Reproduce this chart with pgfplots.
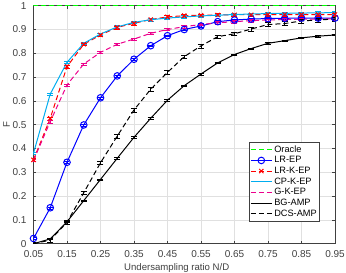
\documentclass[border=0pt]{standalone}
\usepackage{pgfplots}
\pgfplotsset{compat=1.18}
\usepackage{fontspec}
\setmainfont{Liberation Sans}
\definecolor{axgray}{gray}{0.25}
\definecolor{grd}{gray}{0.88}
\begin{document}
\begin{tikzpicture}
\useasboundingbox (-33.5pt,-29.3pt) rectangle (312.5pt,243.7pt);
\begin{axis}[
  at={(0,0)}, anchor=south west,
  scale only axis, width=301.5pt, height=238pt,
  xmin=0.05, xmax=0.95, ymin=0, ymax=1,
  xtick={0.05,0.15,...,0.95},
  xticklabels={0.05,0.15,0.25,0.35,0.45,0.55,0.65,0.75,0.85,0.95},
  ytick={0,0.1,...,1.0},
  yticklabels={0,0.1,0.2,0.3,0.4,0.5,0.6,0.7,0.8,0.9,1},
  grid=major, major grid style={draw=grd, line width=0.5pt},
  axis line style={draw=axgray, line width=0.5pt},
  tick align=inside, major tick length=3pt, tick style={draw=axgray, line width=0.5pt},
  /pgf/number format/assume math mode=true,
  ticklabel style={font=\fontsize{10}{12}\selectfont, text=axgray},
  xticklabel style={yshift=-3.5pt},
  yticklabel style={xshift=-3.5pt},
  xlabel={Undersampling ratio N/D},
  ylabel={F},
  every axis x label/.style={at={(axis description cs:0.475,-0.102)}, anchor=center, font=\fontsize{9.6}{11}\selectfont, text=axgray},
  every axis y label/.style={at={(axis description cs:-0.089,0.5)}, anchor=center, rotate=90, font=\fontsize{9.6}{11}\selectfont, text=axgray},
  legend style={at={(axis description cs:0.715,0.426)}, anchor=north west,
    font=\fontsize{9.2}{10}\selectfont, draw=axgray, line width=0.5pt, inner sep=1pt,
    row sep=-1.2pt, cells={anchor=west}},
  legend cell align=left,
  legend image code/.code={\draw[#1] (0pt,0pt) -- (21pt,0pt); \draw[#1, solid, mark repeat=1, mark phase=1] plot coordinates {(10.5pt,0pt)};},
  every axis plot/.append style={line width=1pt},
  error bars/error bar style={solid, line width=0.7pt},
]
\addplot[color=green, dashed, dash pattern=on 5pt off 3pt] coordinates {(0.05,1) (0.95,1)};
\addlegendentry{Oracle}
\addplot[color=blue, mark=o, mark size=3.3pt,
  error bars/.cd, y dir=both, y fixed=0.004, error mark options={rotate=90, mark size=2.5pt}] coordinates {
(0.05,0.022) (0.10,0.151) (0.15,0.342) (0.20,0.499) (0.25,0.613) (0.30,0.705) (0.35,0.775) (0.40,0.832) (0.45,0.874) (0.50,0.900) (0.55,0.915) (0.60,0.933) (0.65,0.940) (0.70,0.944) (0.75,0.946) (0.80,0.947) (0.85,0.948) (0.90,0.948) (0.95,0.948)};
\addlegendentry{LR-EP}
\addplot[color=red, dashed, dash pattern=on 5pt off 3pt, mark=x, mark size=3pt, mark options={solid},
  error bars/.cd, y dir=both, y fixed=0.006, error mark options={rotate=90, mark size=3pt}] coordinates {
(0.05,0.352) (0.10,0.527) (0.15,0.744) (0.20,0.838) (0.25,0.877) (0.30,0.909) (0.35,0.926) (0.40,0.942) (0.45,0.953) (0.50,0.958) (0.55,0.960) (0.60,0.961) (0.65,0.962) (0.70,0.962) (0.75,0.963) (0.80,0.963) (0.85,0.963) (0.90,0.963) (0.95,0.963)};
\addlegendentry{LR-K-EP}
\addplot[color=cyan, mark=none,
  error bars/.cd, y dir=both, y fixed=0.005, error mark options={rotate=90, mark size=3pt}] coordinates {
(0.05,0.380) (0.10,0.629) (0.15,0.762) (0.20,0.842) (0.25,0.881) (0.30,0.911) (0.35,0.930) (0.40,0.941) (0.45,0.948) (0.50,0.953) (0.55,0.957) (0.60,0.960) (0.65,0.963) (0.70,0.965) (0.75,0.967) (0.80,0.968) (0.85,0.969) (0.90,0.970) (0.95,0.971)};
\addlegendentry{CP-K-EP}
\addplot[color=magenta, dashed, dash pattern=on 5pt off 3pt, mark=none,
  error bars/.cd, y dir=both, y fixed=0.005, error mark options={rotate=90, mark size=3pt}] coordinates {
(0.05,0.350) (0.10,0.513) (0.15,0.667) (0.20,0.755) (0.25,0.804) (0.30,0.838) (0.35,0.860) (0.40,0.884) (0.45,0.900) (0.50,0.912) (0.55,0.921) (0.60,0.928) (0.65,0.933) (0.70,0.937) (0.75,0.940) (0.80,0.942) (0.85,0.943) (0.90,0.944) (0.95,0.945)};
\addlegendentry{G-K-EP}
\addplot[color=black, mark=none,
  error bars/.cd, y dir=both, y fixed=0.003, error mark options={rotate=90, mark size=3pt}] coordinates {
(0.05,0.000) (0.10,0.020) (0.15,0.092) (0.20,0.181) (0.25,0.270) (0.30,0.359) (0.35,0.447) (0.40,0.527) (0.45,0.603) (0.50,0.664) (0.55,0.713) (0.60,0.760) (0.65,0.795) (0.70,0.820) (0.75,0.842) (0.80,0.853) (0.85,0.865) (0.90,0.872) (0.95,0.877)};
\addlegendentry{BG-AMP}
\addplot[color=black, dashed, dash pattern=on 5pt off 3pt, mark=none,
  error bars/.cd, y dir=both, y fixed=0.008, error mark options={rotate=90, mark size=3pt}] coordinates {
(0.05,0.000) (0.10,0.015) (0.15,0.090) (0.20,0.214) (0.25,0.340) (0.30,0.452) (0.35,0.562) (0.40,0.649) (0.45,0.720) (0.50,0.786) (0.55,0.831) (0.60,0.870) (0.65,0.882) (0.70,0.902) (0.75,0.921) (0.80,0.925) (0.85,0.936) (0.90,0.940) (0.95,0.944)};
\addlegendentry{DCS-AMP}
\end{axis}
\end{tikzpicture}
\end{document}
